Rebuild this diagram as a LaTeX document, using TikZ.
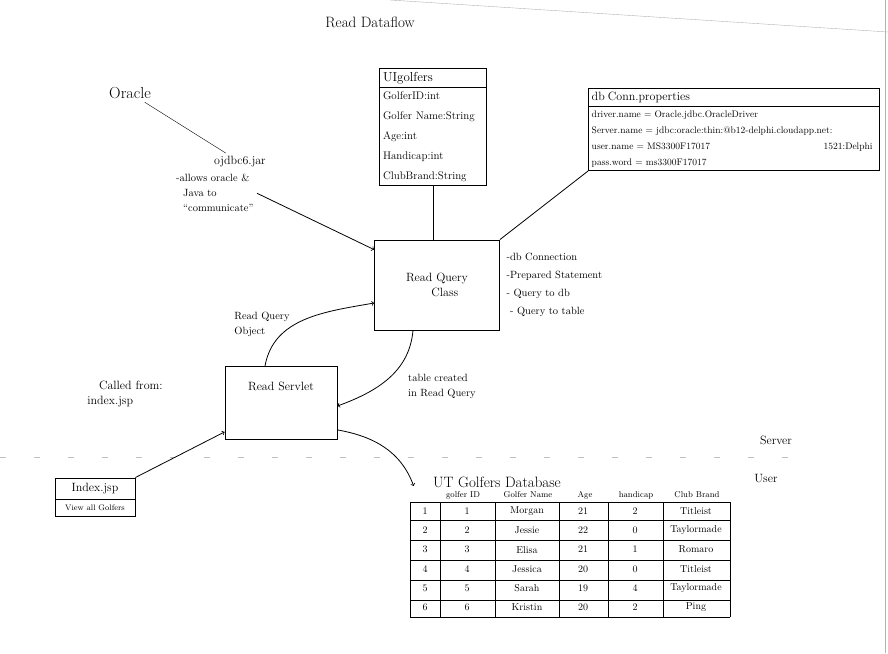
\documentclass[tikz,border=0pt]{standalone}
\usepackage{tikz}
\usetikzlibrary{shapes,positioning}

\begin{document}
\begin{tikzpicture}[x=1pt,y=-1pt]
\tikzstyle{every node}=[font=\fontsize{12}{15}\selectfont]
\tikzstyle{box}=[draw,thick,align=center]
\tikzstyle{classbox}=[
  rectangle split,
  rectangle split parts=2,
  draw, thick, align=left ]
\tikzstyle{note}=[align=left,font=\fontsize{10.5}{15}\selectfont]
\tikzstyle{cell}=[font=\fontsize{10}{12}\selectfont]
\tikzstyle{flow}=[->,thick]
\useasboundingbox (0,0) rectangle (888,653);
\draw[gray!60] (390,0) -- (888,32);
\draw[gray!60] (885,0) -- (885,653);

\node (title) at (370,22) {\fontsize{15}{18}\selectfont Read Dataflow};
\node (oracle) at (130,93) {\fontsize{16}{18}\selectfont Oracle};
\node (jar) at (240,162) {ojdbc6.jar};
\node[note,below=0pt of jar.south west,anchor=north west,xshift=-38] (jarnote)
  {-allows oracle \&\\\ \ Java to\\\ \ ``communicate''};

\node[classbox,anchor=north,text width=100,font=\fontsize{11}{13}\selectfont,
  rectangle split part align={center,left}] (ui) at (433,68)
  {\fontsize{13}{15}\selectfont UIgolfers
   \nodepart{two}GolferID:int\\[7pt]Golfer Name:String\\[7pt]
   Age:int\\[7pt]Handicap:int\\[7pt]ClubBrand:String};

\node[classbox,anchor=north west,text width=284,font=\fontsize{9.5}{12}\selectfont] (db) at (588,88)
  {\fontsize{12}{14}\selectfont db Conn.properties
   \nodepart{two}
   driver.name = Oracle.jdbc.OracleDriver\\[4pt]
   Server.name = jdbc:oracle:thin:@b12-delphi.cloudapp.net:\\[4pt]
   user.name = MS3300F17017 \hfill 1521:Delphi\ \ \ \\[4pt]
   pass.word = ms3300F17017};

\node[box,minimum width=125,minimum height=90] (query) at (437,285)
  {Read Query\\\ \ \ \ Class};
\node[note,anchor=north west,font=\fontsize{10.5}{12}\selectfont] (tasks) at (503,250)
  {-db Connection\\[6pt] -Prepared Statement\\[6pt] - Query to db\\[6pt] \ - Query to table};

\node[box,minimum width=112,minimum height=73] (servlet) at (281,403)
  {Read Servlet\\[18pt]};
\node[note,align=left] (rqobject) at (262,324) {Read Query\\Object};
\node[align=left] (called) at (125,394) {\ \ \ Called from:\\index.jsp};
\node[note] (created) at (442,386) {table created\\in Read Query};

\node[draw,thick,rectangle split,rectangle split parts=2,minimum width=80,
  inner ysep=5] (index) at (95,497)
  {Index.jsp \nodepart{two}\fontsize{8}{9}\selectfont View all Golfers};

\node (server) at (776,440) {Server};
\node (user) at (766,479) {User};
\draw[dashed,gray!50,dash pattern=on 6pt off 28pt] (0,457) -- (800,457);

\node (dbtitle) at (497,482) {\fontsize{15}{18}\selectfont UT Golfers Database};

\draw (oracle) -- (jar);
\draw[flow] (jarnote.east) -- ([yshift=-10]query.north west);
\draw[thick] (ui.south) -- (query.north -| ui.south);
\draw[thick] (db.south west) -- (query.north east);
\draw[flow] ([xshift=-16]servlet.north) to[out=80,in=190] ([yshift=-18]query.west);
\draw[flow] ([xshift=-24]query.south) to[out=-95,in=20] ([yshift=-3]servlet.east);
\draw[flow] (index.north east) -- ([yshift=8]servlet.south west);
\draw[flow] ([yshift=10]servlet.south east) to[out=-10,in=110] ([xshift=-16,yshift=-4]dbtitle.west);

\foreach \y in {502,520,540,560,580,600,617}
  \draw (410,\y) -- (730,\y);
\foreach \x in {410,440,495,559,608,663,730}
  \draw (\x,502) -- (\x,617);
\foreach \x/\h [count=\c] in {463/golfer ID,528/Golfer Name,585/Age,636/handicap,697/Club Brand}
  \node[cell,anchor=base,font=\fontsize{8.5}{10}\selectfont] (h\c) at (\x,497) {\h};
\foreach \n/\name/\age/\hc/\brand [count=\r] in
  {1/Morgan/21/2/Titleist,2/Jessie/22/0/Taylormade,3/Elisa/21/1/Romaro,
   4/Jessica/20/0/Titleist,5/Sarah/19/4/Taylormade,6/Kristin/20/2/Ping}
{
  \pgfmathsetmacro{\yc}{492+19.2*\r}
  \node[cell] (n\r) at (425,\yc) {\n};
  \node[cell] (i\r) at (467,\yc) {\n};
  \node[cell] (g\r) at (527,\yc) {\name};
  \node[cell] (a\r) at (583,\yc) {\age};
  \node[cell] (k\r) at (635,\yc) {\hc};
  \node[cell] (b\r) at (696,\yc) {\brand};
}
\end{tikzpicture}
\end{document}
